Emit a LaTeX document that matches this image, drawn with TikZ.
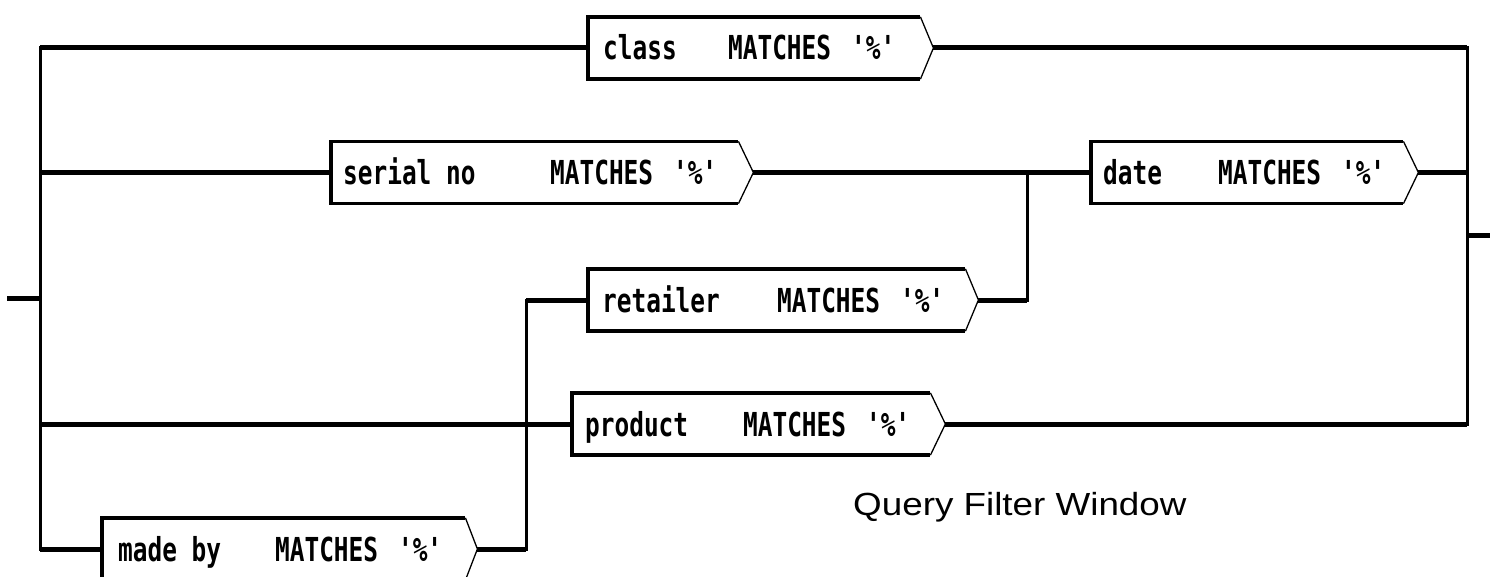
\documentclass[tikz,border=0pt]{standalone}
\usepackage{fontspec}
\newfontfamily\boxfont[FakeStretch=0.74,Ligatures=TeXOff]{DejaVu Sans Mono}
\newfontfamily\capfont[FakeStretch=1.15]{Liberation Sans}
\usetikzlibrary{calc}

\tikzset{
  hline/.style={line width=5pt},
  vline/.style={line width=3pt, line cap=rect},
  qbox/.style={draw=none, inner sep=0pt, minimum height=62pt,
    text height=31pt, text depth=7pt, anchor=west,
    font=\boxfont\bfseries\fontsize{33}{33}\selectfont},
  edge/.style={line width=3.5pt, line join=miter},
  tipline/.style={line width=1.3pt},
}

% filter text: total width, label offset, MATCHES offset, label
\newcommand\qbody[4]{\makebox[#1pt][l]{\hspace*{#2pt}\makebox[\dimexpr#3pt-#2pt\relax][l]{#4}MATCHES\hspace*{20pt}'\%'}}
% outline of a filter box with its pointed right end
\newcommand\qframe[2]{%
  \draw[edge] (#1.north east) -- (#1.north west) -- (#1.south west) -- (#1.south east);
  \coordinate (#1-tip) at ($(#1.east)+(#2,0)$);
  \draw[tipline] (#1.north east) -- (#1-tip) -- (#1.south east);}

\begin{document}
\begin{tikzpicture}[x=1pt,y=-1pt]
\useasboundingbox (0,0) rectangle (1490,577);
\clip (0,0) rectangle (1490,577);

% filter boxes
\node[qbox, minimum width=332] (cls) at (588,48) {\qbody{332}{15}{140}{class}};
\node[qbox, minimum width=407] (serial) at (331,172.5) {\qbody{407}{12}{219}{serial no}};
\node[qbox, minimum width=312] (date) at (1091,172.5) {\qbody{312}{12}{127}{date}};
\node[qbox, minimum width=377] (retailer) at (588,300) {\qbody{377}{14}{189}{retailer}};
\node[qbox, minimum width=358] (product) at (572,424) {\qbody{358}{13}{171}{product}};
\node[qbox, minimum width=363] (madeby) at (102,549) {\qbody{363}{16}{173}{made by}};

\qframe{cls}{13}
\qframe{serial}{15}
\qframe{date}{15}
\qframe{retailer}{13}
\qframe{product}{15}
\qframe{madeby}{12}

% junction points
\coordinate (in) at (7,298.5);
\coordinate (lm) at (40,298.5);
\coordinate (lt) at (40,48);
\coordinate (ls) at (40,172.5);
\coordinate (lp) at (40,424);
\coordinate (lb) at (40,549);
\coordinate (rt) at (1467,48);
\coordinate (rs) at (1467,172.5);
\coordinate (rm) at (1467,236);
\coordinate (rb) at (1467,424);
\coordinate (out) at (1490,236);
\coordinate (jt) at (1027,172.5);
\coordinate (jb) at (1027,300);
\coordinate (mt) at (526,300);
\coordinate (mb) at (526,549);

% left bus and branches
\draw[hline] (in) -- (lm);
\draw[vline] (lt) -- (lb);
\draw[hline] (lt) -- (cls.west);
\draw[hline] (ls) -- (serial.west);
\draw[hline] (lp) -- (product.west);
\draw[hline] (lb) -- (madeby.west);

% made by -> retailer
\draw[hline] (madeby-tip) -- (mb);
\draw[vline] (mb) -- (mt);
\draw[hline] (mt) -- (retailer.west);

% serial no / retailer -> date
\draw[hline] (serial-tip) -- (date.west);
\draw[hline] (retailer-tip) -- (jb);
\draw[vline] (jb) -- (jt);

% right bus
\draw[hline] (cls-tip) -- (rt);
\draw[hline] (date-tip) -- (rs);
\draw[hline] (product-tip) -- (rb);
\draw[vline] (rt) -- (rb);
\draw[hline] (rm) -- (out);

\node[font=\capfont\fontsize{32}{32}\selectfont, anchor=base west, inner sep=0pt] (cap) at (853,515) {Query Filter Window};
\end{tikzpicture}
\end{document}
